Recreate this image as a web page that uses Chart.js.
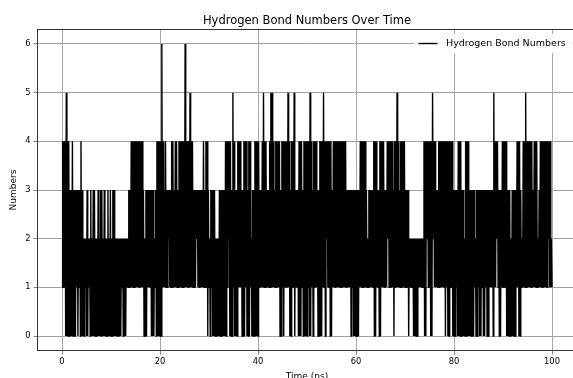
<!DOCTYPE html>
<html>
<head>
<meta charset="utf-8">
<title>Hydrogen Bond Numbers Over Time</title>
<script src="https://cdn.jsdelivr.net/npm/chart.js@4.4.0/dist/chart.umd.min.js"></script>
<style>
  html, body { margin: 0; padding: 0; background: #fff; overflow: hidden; }
  #wrap { position: absolute; left: 0; top: 0; }
</style>
</head>
<body>
<div id="wrap"><canvas id="hbondChart" width="600" height="392"></canvas></div>
<script>
const chartTitle = "Hydrogen Bond Numbers Over Time";
const seriesLabel = "Hydrogen Bond Numbers";
const xTicks = [0, 20, 40, 60, 80, 100];
const yTicks = [0, 1, 2, 3, 4, 5, 6];

// times in ns
// stretches where the count drops to 0
const zeroDips = [[0.75,2.9],[3.2,3.5],[3.8,4.8],[5.0,5.4],[5.7,6.9],[7.1,12.2],[12.5,13.1],
  [16.9,17.5],[18.3,18.9],[19.3,20.5],[29.7,29.9],[30.2,30.4],[30.9,31.2],[31.4,32.6],
  [32.9,33.6],[34.3,35.0],[35.3,36.0],[36.9,37.4],[37.7,38.4],[38.7,40.3],[44.6,44.9],
  [45.2,45.5],[46.5,46.9],[47.5,47.7],[48.2,48.6],[48.8,49.0],[49.3,50.3],[50.6,51.0],
  [51.3,51.5],[52.2,53.3],[53.7,53.9],[54.7,55.2],[59.0,59.2],[59.5,60.6],[63.8,64.1],
  [64.9,65.1],[67.7,68.0],[70.7,71.0],[71.7,72.7],[74.1,74.4],[75.4,75.6],[78.2,78.5],
  [78.7,79.2],[79.7,80.5],[80.9,81.6],[81.9,84.3],[84.6,85.0],[85.3,85.6],[86.0,86.4],
  [86.8,87.3],[88.0,88.3],[89.4,89.7],[90.9,92.8],[93.3,93.6]];
// short moments where the count stays at 2 or more
const whiteAt12 = [21.9, 27.7, 34.1, 54.0, 66.6, 74.6, 75.9, 88.9, 99.45];
// stretches where the count never reaches 3
const gaps23 = [[4.4,5.0],[5.4,5.7],[6.1,6.3],[6.8,7.1],[7.5,7.8],[8.2,8.4],[8.8,9.1],[9.5,9.8],
  [10.1,10.3],[10.8,13.5],[16.9,17.0],[18.8,18.9],[30.0,30.3],[31.4,32.0],[37.5,37.8],
  [38.6,38.8],[62.3,62.5],[70.8,72.4],[72.6,73.1],[73.4,73.7],[82.1,82.4],[84.3,84.5],
  [91.5,91.7],[93.75,93.9],[97.15,97.3],[99.6,100]];
// stretches reaching 4
const band34 = [[0,1.4],[2.0,2.2],[3.7,4.0],[14.1,15.6],[15.9,16.4],[19.3,20.7],[21.0,21.3],
  [22.4,22.8],[23.1,23.5],[23.9,26.6],[28.8,29.0],[29.3,29.6],[33.3,34.4],[34.8,35.2],
  [35.8,36.4],[37.0,37.6],[38.0,38.5],[39.4,40.3],[40.7,41.8],[42.2,43.1],[43.6,44.4],
  [44.8,45.6],[45.9,46.5],[46.9,47.3],[48.2,49.0],[49.3,51.0],[51.3,52.0],[52.6,53.7],
  [53.9,54.9],[55.4,56.1],[56.4,57.9],[60.8,62.0],[63.5,64.2],[64.7,65.8],[66.3,67.4],
  [67.8,68.6],[69.0,70.0],[73.9,75.1],[75.4,75.6],[75.9,76.3],[76.8,78.2],[78.4,79.7],
  [80.9,81.4],[82.4,82.9],[88.4,89.0],[89.7,90.8],[92.8,93.5],[94.0,95.9],[96.3,96.9],
  [97.6,99.6]];
// single peaks
const spikes5 = [0.8, 26.0, 34.8, 41.1, 42.7, 42.9, 46.2, 47.4, 50.7, 53.3, 68.3, 75.6, 88.0, 94.6];
const spikes6 = [20.3, 25.1];

const SLOT = 0.25;
const FONT = "'DejaVu Sans', sans-serif";

function hits(list, a, b) {
  return list.some(([s, e]) => Math.min(e, b) - Math.max(s, a) > 0.08);
}
function inGap(list, c) {
  return list.some(([s, e]) => c >= s - 0.06 && c <= e + 0.06);
}
function hasTime(list, a, b) {
  return list.some((t) => t >= a && t < b);
}

// low and high count inside each slot, drawn as a zigzag
const series = [];
for (let i = 0; i < 100 / SLOT; i++) {
  const a = i * SLOT, b = a + SLOT, c = a + SLOT / 2;
  let lo = 1, hi = 3;
  if (hits(zeroDips, a, b)) lo = 0;
  else if (hasTime(whiteAt12, a, b)) lo = 2;
  if (hasTime(spikes6, a, b)) hi = 6;
  else if (hasTime(spikes5, a, b)) hi = 5;
  else if (hits(band34, a, b)) hi = 4;
  else if (inGap(gaps23, c)) hi = 2;
  series.push({ x: a, y: lo }, { x: c, y: hi });
}
series.push({ x: 100, y: 1 });

Chart.defaults.font.family = FONT;
Chart.defaults.color = "#000";

// title, top spine and the legend box inside the axes
const decor = {
  id: "decor",
  afterDraw(chart) {
    const { ctx, chartArea } = chart;
    const top = Math.round(chartArea.top) + 0.5;
    ctx.save();
    ctx.strokeStyle = "#333";
    ctx.lineWidth = 1;
    ctx.beginPath();
    ctx.moveTo(chartArea.left, top);
    ctx.lineTo(chartArea.right, top);
    ctx.stroke();

    ctx.fillStyle = "#000";
    ctx.font = "11.5px " + FONT;
    ctx.textAlign = "center";
    ctx.textBaseline = "alphabetic";
    ctx.fillText(chartTitle, (chartArea.left + chartArea.right) / 2, 23.5);

    ctx.fillStyle = "#fff";
    ctx.fillRect(414.5, 34, 158, 19);
    ctx.strokeStyle = "#000";
    ctx.lineWidth = 1.4;
    ctx.beginPath();
    ctx.moveTo(418.5, 43.5);
    ctx.lineTo(437.5, 43.5);
    ctx.stroke();
    ctx.fillStyle = "#000";
    ctx.font = "9.5px " + FONT;
    ctx.textAlign = "left";
    ctx.textBaseline = "middle";
    ctx.fillText(seriesLabel, 446, 44);
    ctx.restore();
  }
};

const ctx = document.getElementById("hbondChart").getContext("2d");
new Chart(ctx, {
  type: "line",
  data: {
    datasets: [
      {
        label: seriesLabel,
        data: series,
        borderColor: "#000",
        borderWidth: 1.4,
        pointRadius: 0,
        tension: 0,
        fill: false,
      },
    ],
  },
  options: {
    responsive: false,
    animation: false,
    devicePixelRatio: 1,
    parsing: false,
    layout: { padding: { left: 0, top: 29.4, right: 23.5, bottom: 0 } },
    plugins: {
      legend: { display: false },
      tooltip: { enabled: false },
    },
    scales: {
      x: {
        type: "linear",
        min: -5,
        max: 105,
        afterBuildTicks: (s) => { s.ticks = xTicks.map((v) => ({ value: v })); },
        afterFit: (s) => { s.height = 392 - 350.6; },
        ticks: { font: { size: 8.3 }, padding: 2, maxRotation: 0, callback: (v) => String(v) },
        grid: { color: "#a8a8a8", tickColor: "#888", tickLength: 4, lineWidth: 1 },
        border: { color: "#333", width: 1 },
        title: { display: true, text: "Time (ns)", font: { size: 9 }, padding: { top: 0, bottom: 9.5 } },
      },
      y: {
        type: "linear",
        min: -0.3,
        max: 6.3,
        afterBuildTicks: (s) => { s.ticks = yTicks.map((v) => ({ value: v })); },
        afterFit: (s) => { s.width = 37.5; },
        ticks: { font: { size: 8.3 }, padding: 3, callback: (v) => String(v) },
        grid: { color: "#a0a0a0", tickColor: "#888", tickLength: 4, lineWidth: 1 },
        border: { color: "#333", width: 1 },
        title: { display: true, text: "Numbers", font: { size: 9 }, padding: { top: 8.6, bottom: 0 } },
      },
    },
  },
  plugins: [decor],
});
</script>
</body>
</html>
